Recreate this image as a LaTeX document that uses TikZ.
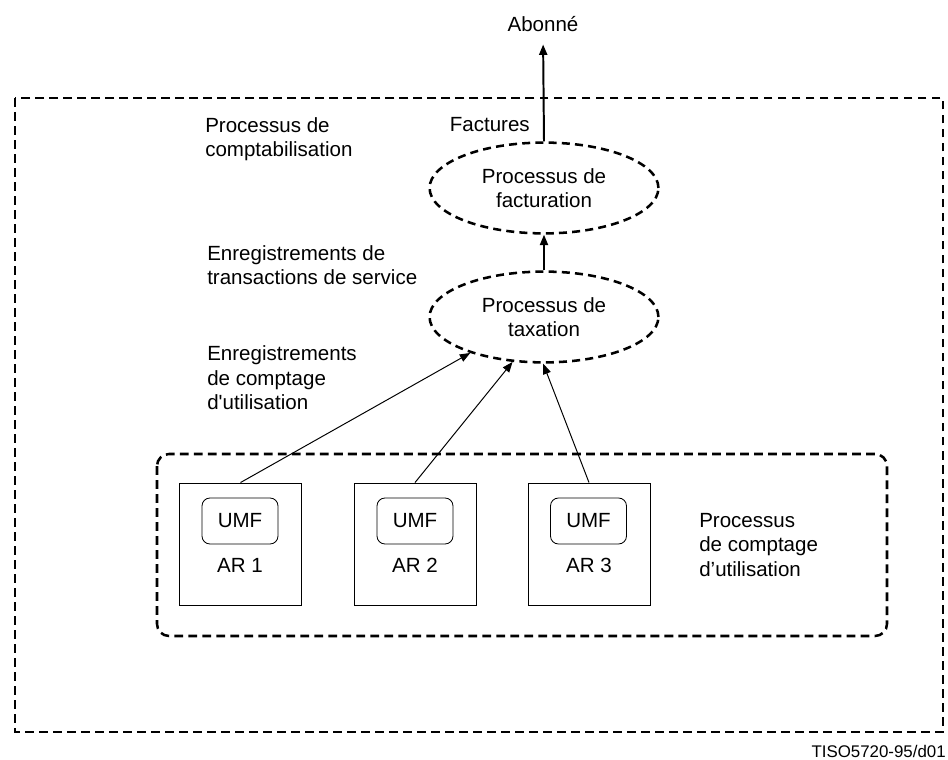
\documentclass[tikz,border=0pt]{standalone}
\usepackage{fontspec}
\setmainfont{Liberation Sans}
\usetikzlibrary{shapes.geometric,arrows.meta}

\begin{document}
\begin{tikzpicture}[
            x = 0.025cm, y = -0.025cm, % pixel grid
            > = {Triangle[length=0.26cm,width=0.2cm]}, % arrow head style
            every node/.style = {font=\fontsize{14.6pt}{17.4pt}\selectfont, inner sep=0pt},
            dashline/.style = {line width=2.1pt, dash pattern=on 0.22cm off 0.13cm},
            procell/.style = {shape=ellipse, draw=black, line width=1.8pt,
                dash pattern=on 0.2cm off 0.13cm, minimum width=5.72cm,
                minimum height=2.27cm, align=center},
            arbox/.style = {shape=rectangle, draw=black, line width=0.6pt,
                minimum width=3.05cm, minimum height=3.05cm},
            umfbox/.style = {shape=rectangle, draw=black, line width=0.6pt,
                rounded corners=0.2cm, minimum width=1.9cm, minimum height=1.15cm},
            textnote/.style = {align=left, anchor=west},
            thickarr/.style = {->, line width=1.4pt},
            thinarr/.style = {->, line width=0.7pt}
        ]
\useasboundingbox (0,0) rectangle (948,760);

% frames
\draw[dashline] (15,98) rectangle (943,732);
\draw[dashline, line width=1.8pt, rounded corners=0.3cm] (157,454) rectangle (887,636);

% processes
\node[procell] (fact) at (544,188) {Processus de\\facturation};
\node[procell] (tax) at (544,317) {Processus de\\taxation};
\node[anchor=base] (abonne) at (543,32) {Abonné};

% resources
\node[arbox] (ar1) at (240.5,544) {};
\node[arbox] (ar2) at (415,544) {};
\node[arbox] (ar3) at (589,544) {};
\node[umfbox] (umf1) at (240,521) {UMF};
\node[umfbox] (umf2) at (415,521) {UMF};
\node[umfbox] (umf3) at (588.5,521) {UMF};
\node (lab1) at (240,565) {AR 1};
\node (lab2) at (415,565) {AR 2};
\node (lab3) at (589,565) {AR 3};

% labels
\node[textnote] (compta) at (205,139) {Processus de\\comptabilisation};
\node[anchor=east] (factures) at (530,125) {Factures};
\node[textnote] (trans) at (207,265) {Enregistrements de\\transactions de service};
\node[textnote] (usage) at (207,378) {Enregistrements\\de comptage\\d\textquotesingle utilisation};
\node[textnote] (metering) at (699,545) {Processus\\de comptage\\d’utilisation};
\node[anchor=base east, font=\fontsize{12pt}{14pt}\selectfont] (ref) at (946,757) {TISO5720-95/d01};

 \draw[thickarr, shorten >= 0.3cm] (fact.north) -- (abonne.south);
 \draw[thickarr] (tax.north) -- (fact.south);
 \draw[thinarr] (ar1.north) -- (tax.206);
 \draw[thinarr] (ar2.north) -- (tax.235);
 \draw[thinarr] (ar3.north) -- (tax.269);

\end{tikzpicture}
\end{document}
